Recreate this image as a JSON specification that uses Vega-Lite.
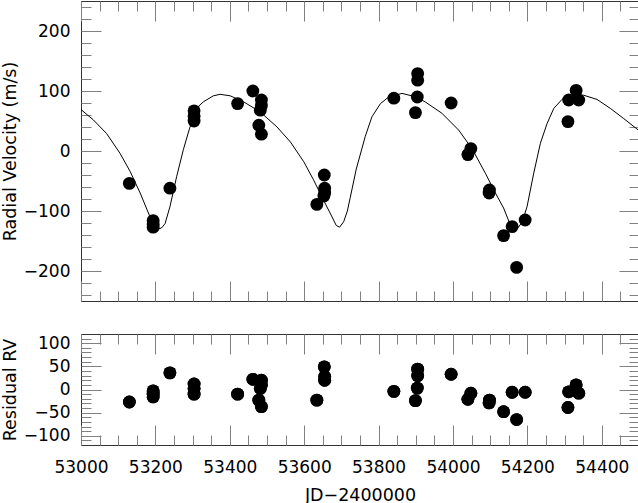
{
  "$schema": "https://vega.github.io/schema/vega-lite/v6.json",
  "padding": {"left": 0, "top": -3, "right": 1, "bottom": 0},
  "spacing": 25,
  "datasets": {
    "fit": [
      {"jd": 53000, "rv": 69}, {"jd": 53033, "rv": 52}, {"jd": 53069, "rv": 29}, {"jd": 53105, "rv": -4},
      {"jd": 53132, "rv": -34}, {"jd": 53159, "rv": -70}, {"jd": 53185, "rv": -109}, {"jd": 53197, "rv": -124},
      {"jd": 53208, "rv": -130}, {"jd": 53217, "rv": -128}, {"jd": 53226, "rv": -121}, {"jd": 53239, "rv": -93},
      {"jd": 53257, "rv": -43}, {"jd": 53275, "rv": 2}, {"jd": 53292, "rv": 38}, {"jd": 53315, "rv": 74},
      {"jd": 53329, "rv": 82}, {"jd": 53356, "rv": 92}, {"jd": 53374, "rv": 94.5}, {"jd": 53401, "rv": 92},
      {"jd": 53437, "rv": 82}, {"jd": 53482, "rv": 65}, {"jd": 53527, "rv": 40}, {"jd": 53563, "rv": 15},
      {"jd": 53599, "rv": -18}, {"jd": 53625, "rv": -48}, {"jd": 53652, "rv": -82}, {"jd": 53675, "rv": -110},
      {"jd": 53686, "rv": -124}, {"jd": 53695, "rv": -127}, {"jd": 53706, "rv": -118}, {"jd": 53716, "rv": -100},
      {"jd": 53724, "rv": -77}, {"jd": 53740, "rv": -30}, {"jd": 53764, "rv": 24}, {"jd": 53782, "rv": 57},
      {"jd": 53805, "rv": 79}, {"jd": 53827, "rv": 90}, {"jd": 53863, "rv": 96}, {"jd": 53895, "rv": 91},
      {"jd": 53925, "rv": 82}, {"jd": 53970, "rv": 63}, {"jd": 54015, "rv": 35}, {"jd": 54051, "rv": 4},
      {"jd": 54087, "rv": -37}, {"jd": 54114, "rv": -70}, {"jd": 54136, "rv": -95}, {"jd": 54154, "rv": -123},
      {"jd": 54165, "rv": -130}, {"jd": 54175, "rv": -128}, {"jd": 54186, "rv": -118}, {"jd": 54199, "rv": -93},
      {"jd": 54217, "rv": -37}, {"jd": 54235, "rv": 13}, {"jd": 54253, "rv": 46}, {"jd": 54271, "rv": 71},
      {"jd": 54293, "rv": 86}, {"jd": 54320, "rv": 93}, {"jd": 54351, "rv": 93}, {"jd": 54387, "rv": 86},
      {"jd": 54423, "rv": 71}, {"jd": 54459, "rv": 54}, {"jd": 54500, "rv": 34}
    ],
    "obs": [
      {"jd": 53130, "rv": -54}, {"jd": 53194, "rv": -116}, {"jd": 53194, "rv": -122}, {"jd": 53194, "rv": -127},
      {"jd": 53239, "rv": -62}, {"jd": 53304, "rv": 67}, {"jd": 53304, "rv": 58}, {"jd": 53304, "rv": 50},
      {"jd": 53421, "rv": 79}, {"jd": 53462, "rv": 100}, {"jd": 53485, "rv": 85}, {"jd": 53485, "rv": 76},
      {"jd": 53482, "rv": 68}, {"jd": 53478, "rv": 43}, {"jd": 53485, "rv": 28}, {"jd": 53654, "rv": -40},
      {"jd": 53655, "rv": -62}, {"jd": 53655, "rv": -70}, {"jd": 53653, "rv": -75}, {"jd": 53634, "rv": -89},
      {"jd": 53841, "rv": 88}, {"jd": 53905, "rv": 129}, {"jd": 53905, "rv": 118}, {"jd": 53904, "rv": 90},
      {"jd": 53899, "rv": 64}, {"jd": 53995, "rv": 80}, {"jd": 54048, "rv": 4}, {"jd": 54040, "rv": -6},
      {"jd": 54098, "rv": -65}, {"jd": 54097, "rv": -70}, {"jd": 54136, "rv": -141}, {"jd": 54159, "rv": -126},
      {"jd": 54171, "rv": -194}, {"jd": 54194, "rv": -115}, {"jd": 54309, "rv": 49}, {"jd": 54311, "rv": 85},
      {"jd": 54331, "rv": 101}, {"jd": 54338, "rv": 85}
    ],
    "resid": [
      {"jd": 53130, "res": -27}, {"jd": 53194, "res": -3}, {"jd": 53194, "res": -10}, {"jd": 53194, "res": -16},
      {"jd": 53239, "res": 36}, {"jd": 53304, "res": 12}, {"jd": 53304, "res": 2}, {"jd": 53304, "res": -10},
      {"jd": 53421, "res": -10}, {"jd": 53462, "res": 22}, {"jd": 53485, "res": 20}, {"jd": 53485, "res": 10},
      {"jd": 53482, "res": 2}, {"jd": 53478, "res": -23}, {"jd": 53485, "res": -37}, {"jd": 53654, "res": 49},
      {"jd": 53655, "res": 28}, {"jd": 53655, "res": 20}, {"jd": 53634, "res": -23},
      {"jd": 53841, "res": -4}, {"jd": 53905, "res": 44}, {"jd": 53905, "res": 30}, {"jd": 53904, "res": 3},
      {"jd": 53899, "res": -24}, {"jd": 53995, "res": 33}, {"jd": 54048, "res": -8}, {"jd": 54040, "res": -21},
      {"jd": 54098, "res": -23}, {"jd": 54097, "res": -29}, {"jd": 54136, "res": -48}, {"jd": 54159, "res": -6},
      {"jd": 54171, "res": -65}, {"jd": 54194, "res": -6}, {"jd": 54309, "res": -39}, {"jd": 54311, "res": -5},
      {"jd": 54331, "res": 10}, {"jd": 54338, "res": -8}
    ]
  },
  "vconcat": [
    {
      "width": 558,
      "height": 300,
      "layer": [
        {
          "data": {"name": "fit"},
          "mark": {"type": "line", "color": "#000", "strokeWidth": 1, "clip": true},
          "encoding": {
            "x": {"field": "jd", "type": "quantitative",
              "scale": {"domain": [53000, 54500], "nice": false, "zero": false},
              "axis": {"orient": "bottom", "title": null, "labels": false,
                "values": [53000,53050,53100,53150,53200,53250,53300,53350,53400,53450,53500,53550,53600,53650,53700,53750,53800,53850,53900,53950,54000,54050,54100,54150,54200,54250,54300,54350,54400,54450,54500],
                "tickSize": {"condition": {"test": "datum.value % 200 === 0", "value": -20}, "value": -10}}},
            "y": {"field": "rv", "type": "quantitative",
              "scale": {"domain": [-250, 250], "nice": false, "zero": false},
              "axis": {"orient": "left", "title": "Radial Velocity (m/s)", "titlePadding": 4,
                "values": [-240,-220,-200,-180,-160,-140,-120,-100,-80,-60,-40,-20,0,20,40,60,80,100,120,140,160,180,200,220,240],
                "labelExpr": "datum.value % 100 === 0 ? datum.label : ''",
                "labelPadding": 31,
                "tickSize": {"condition": {"test": "datum.value % 100 === 0", "value": -20}, "value": -10}}}
          }
        },
        {
          "data": {"name": "obs"},
          "mark": {"type": "circle", "color": "#000", "opacity": 1, "size": 165},
          "encoding": {
            "x": {"field": "jd", "type": "quantitative",
              "axis": {"orient": "top", "title": null, "labels": false,
                "values": [53000,53050,53100,53150,53200,53250,53300,53350,53400,53450,53500,53550,53600,53650,53700,53750,53800,53850,53900,53950,54000,54050,54100,54150,54200,54250,54300,54350,54400,54450,54500],
                "tickSize": {"condition": {"test": "datum.value % 200 === 0", "value": -20}, "value": -10}}},
            "y": {"field": "rv", "type": "quantitative",
              "axis": {"orient": "right", "title": null, "labels": false,
                "values": [-240,-220,-200,-180,-160,-140,-120,-100,-80,-60,-40,-20,0,20,40,60,80,100,120,140,160,180,200,220,240],
                "tickSize": {"condition": {"test": "datum.value % 100 === 0", "value": -20}, "value": -10}}}
          }
        }
      ],
      "resolve": {"axis": {"x": "independent", "y": "independent"}}
    },
    {
      "width": 558,
      "height": 111,
      "data": {"name": "resid"},
      "layer": [
        {
          "mark": {"type": "circle", "color": "#000", "opacity": 1, "size": 165},
          "encoding": {
            "x": {"field": "jd", "type": "quantitative",
              "scale": {"domain": [53000, 54500], "nice": false, "zero": false},
              "axis": {"orient": "bottom", "title": "JD−2400000", "titlePadding": 1, "format": "d",
                "values": [53000,53050,53100,53150,53200,53250,53300,53350,53400,53450,53500,53550,53600,53650,53700,53750,53800,53850,53900,53950,54000,54050,54100,54150,54200,54250,54300,54350,54400,54450,54500],
                "labelExpr": "datum.value % 200 === 0 ? datum.label : ''",
                "labelPadding": 34,
                "tickSize": {"condition": {"test": "datum.value % 200 === 0", "value": -20}, "value": -10}}},
            "y": {"field": "res", "type": "quantitative",
              "scale": {"domain": [-120, 120], "nice": false, "zero": false},
              "axis": {"orient": "left", "title": "Residual RV", "titlePadding": 4,
                "values": [-110,-100,-90,-80,-70,-60,-50,-40,-30,-20,-10,0,10,20,30,40,50,60,70,80,90,100,110],
                "labelExpr": "datum.value % 50 === 0 ? datum.label : ''",
                "labelPadding": 31,
                "tickSize": {"condition": {"test": "datum.value % 50 === 0", "value": -20}, "value": -10}}}
          }
        },
        {
          "mark": {"type": "circle", "color": "#000", "opacity": 1, "size": 165},
          "encoding": {
            "x": {"field": "jd", "type": "quantitative",
              "axis": {"orient": "top", "title": null, "labels": false,
                "values": [53000,53050,53100,53150,53200,53250,53300,53350,53400,53450,53500,53550,53600,53650,53700,53750,53800,53850,53900,53950,54000,54050,54100,54150,54200,54250,54300,54350,54400,54450,54500],
                "tickSize": {"condition": {"test": "datum.value % 200 === 0", "value": -20}, "value": -10}}},
            "y": {"field": "res", "type": "quantitative",
              "axis": {"orient": "right", "title": null, "labels": false,
                "values": [-110,-100,-90,-80,-70,-60,-50,-40,-30,-20,-10,0,10,20,30,40,50,60,70,80,90,100,110],
                "tickSize": {"condition": {"test": "datum.value % 50 === 0", "value": -20}, "value": -10}}}
          }
        }
      ],
      "resolve": {"axis": {"x": "independent", "y": "independent"}}
    }
  ],
  "config": {
    "view": {"stroke": "#333", "strokeWidth": 1},
    "axis": {
      "domain": false, "grid": false, "tickColor": "#808080", "tickWidth": 1,
      "labelFont": "DejaVu Sans", "labelFontSize": 17, "labelColor": "#000",
      "titleFont": "DejaVu Sans", "titleFontSize": 17.5, "titleFontWeight": "normal", "titleColor": "#000",
      "labelOverlap": false, "labelFlush": false
    }
  }
}
